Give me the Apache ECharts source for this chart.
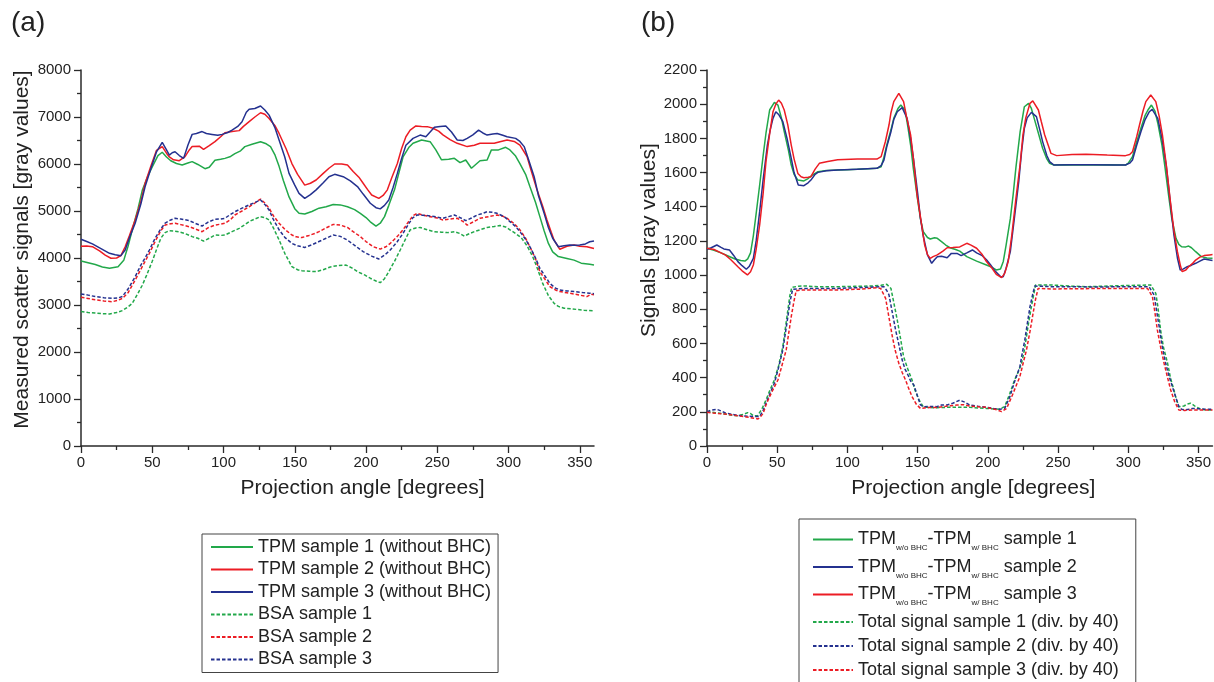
<!DOCTYPE html>
<html>
<head>
<meta charset="utf-8">
<script src="https://cdn.jsdelivr.net/npm/echarts@6.0.0/dist/echarts.min.js"></script>
<style>
  html, body { margin: 0; padding: 0; background: #fff; }
  #chart { width: 1214px; height: 682px; }
</style>
</head>
<body>
<div id="chart"></div>
<script>
// ---------- Panel (a): measured scatter signals, [angle (deg), gray value] ----------
const tpm1 = [[0,3935],[5,3900],[10,3860],[15,3810],[20,3780],[26,3815],[30,3950],[33,4250],[36,4600],[40,5050],[43,5440],[47,5750],[50,5940],[54,6180],[57,6250],[60,6150],[63,6070],[67,6010],[71,5980],[75,6020],[78,6050],[82,5990],[87,5900],[90,5930],[94,6080],[98,6100],[101,6120],[105,6160],[108,6220],[112,6280],[115,6370],[120,6420],[126,6475],[130,6430],[133,6370],[136,6200],[139,5950],[142,5650],[146,5300],[150,5050],[153,4950],[157,4935],[162,4990],[167,5060],[172,5090],[177,5140],[182,5130],[187,5090],[192,5030],[196,4950],[200,4860],[203,4770],[207,4680],[210,4740],[213,4880],[216,5120],[220,5450],[223,5800],[226,6150],[230,6350],[233,6440],[239,6510],[245,6475],[249,6300],[253,6090],[258,6100],[262,6120],[266,6030],[270,6085],[274,5910],[277,5990],[280,6070],[285,6085],[288,6300],[293,6300],[298,6355],[301,6300],[305,6170],[308,6010],[312,5780],[315,5520],[319,5180],[322,4880],[325,4580],[328,4310],[331,4130],[335,4030],[341,3990],[346,3955],[351,3890],[357,3865],[360,3850]];
const tpm2 = [[0,4250],[4,4255],[8,4240],[13,4150],[17,4060],[21,3995],[25,4000],[28,4050],[31,4240],[34,4480],[38,4810],[42,5200],[45,5590],[49,5950],[53,6290],[57,6370],[60,6230],[62,6150],[65,6090],[69,6070],[73,6155],[76,6300],[78,6370],[83,6380],[86,6310],[90,6390],[94,6475],[98,6580],[101,6665],[106,6690],[111,6710],[114,6800],[118,6900],[122,7000],[126,7090],[129,7060],[132,6970],[136,6820],[139,6650],[144,6320],[148,6010],[152,5780],[157,5550],[161,5590],[165,5660],[170,5800],[174,5910],[178,6000],[183,6000],[187,5980],[191,5840],[195,5720],[198,5590],[201,5460],[204,5340],[209,5270],[212,5330],[215,5450],[218,5700],[222,6010],[225,6330],[228,6580],[231,6720],[235,6810],[239,6800],[243,6795],[247,6760],[251,6700],[254,6620],[259,6520],[264,6440],[271,6370],[276,6400],[280,6440],[285,6440],[290,6440],[294,6475],[299,6510],[304,6480],[308,6400],[313,6160],[316,5850],[320,5450],[324,5100],[327,4810],[330,4550],[332,4380],[336,4185],[341,4250],[346,4275],[350,4250],[355,4240],[360,4200]];
const tpm3 = [[0,4400],[4,4350],[8,4300],[14,4200],[20,4100],[24,4070],[28,4050],[31,4170],[34,4430],[38,4740],[42,5150],[45,5520],[49,5900],[53,6260],[57,6460],[60,6300],[62,6190],[64,6240],[66,6260],[69,6180],[72,6120],[75,6400],[78,6630],[81,6650],[85,6690],[88,6650],[92,6630],[96,6610],[99,6630],[103,6670],[106,6720],[110,6800],[113,6900],[116,7100],[118,7165],[122,7180],[126,7235],[129,7150],[132,7040],[136,6780],[139,6510],[143,6150],[146,5800],[150,5550],[153,5375],[157,5270],[161,5350],[165,5450],[170,5600],[174,5730],[178,5780],[184,5730],[189,5640],[194,5520],[198,5360],[203,5165],[207,5070],[210,5045],[213,5120],[216,5235],[219,5500],[222,5800],[225,6120],[228,6400],[233,6545],[238,6615],[242,6580],[245,6680],[248,6780],[252,6800],[256,6810],[260,6680],[264,6510],[268,6500],[271,6545],[275,6620],[279,6720],[282,6660],[285,6615],[289,6640],[292,6650],[296,6610],[299,6580],[305,6545],[308,6480],[311,6370],[314,6100],[318,5730],[321,5330],[325,4950],[328,4650],[331,4420],[335,4240],[339,4260],[343,4275],[347,4270],[350,4275],[354,4300],[357,4345],[360,4360]];
const bsa1 = [[0,2860],[5,2840],[10,2830],[15,2815],[20,2810],[25,2840],[29,2880],[33,2960],[36,3035],[40,3250],[43,3420],[46,3630],[50,3930],[53,4180],[56,4420],[59,4540],[62,4580],[66,4570],[69,4555],[73,4520],[78,4455],[82,4420],[86,4360],[90,4420],[94,4490],[98,4480],[101,4490],[106,4560],[111,4630],[115,4710],[118,4775],[122,4830],[126,4880],[129,4860],[132,4810],[135,4640],[139,4385],[143,4100],[148,3815],[152,3750],[155,3730],[160,3720],[165,3710],[170,3750],[175,3810],[180,3840],[186,3850],[190,3790],[194,3710],[199,3640],[203,3570],[207,3510],[210,3475],[213,3560],[216,3710],[220,3930],[224,4170],[228,4420],[231,4600],[235,4640],[238,4650],[243,4600],[248,4560],[253,4550],[257,4540],[262,4560],[266,4520],[269,4465],[272,4510],[276,4560],[280,4600],[285,4650],[290,4670],[294,4690],[298,4660],[301,4600],[305,4520],[309,4430],[313,4260],[317,4030],[320,3800],[324,3460],[328,3200],[332,3035],[335,2970],[339,2930],[344,2920],[348,2905],[353,2890],[360,2875]];
const bsa2 = [[0,3165],[5,3140],[10,3110],[16,3085],[22,3070],[26,3100],[29,3140],[33,3260],[38,3530],[42,3760],[45,3930],[48,4100],[52,4350],[56,4580],[59,4700],[63,4730],[66,4740],[70,4710],[76,4665],[80,4620],[85,4560],[89,4640],[94,4700],[98,4720],[101,4740],[105,4820],[108,4915],[113,5000],[118,5090],[122,5170],[126,5255],[129,5170],[132,5060],[135,4900],[139,4740],[143,4610],[148,4490],[151,4450],[155,4435],[160,4480],[164,4520],[167,4560],[172,4640],[177,4715],[182,4700],[187,4650],[191,4560],[196,4455],[200,4350],[205,4240],[210,4190],[214,4240],[217,4310],[222,4460],[226,4600],[230,4780],[233,4900],[236,4950],[240,4910],[245,4880],[250,4850],[254,4810],[259,4830],[264,4845],[268,4780],[271,4700],[276,4780],[280,4845],[286,4880],[292,4915],[296,4890],[299,4845],[304,4730],[308,4600],[312,4420],[315,4240],[319,3980],[322,3710],[326,3530],[329,3390],[333,3320],[336,3285],[341,3260],[346,3235],[350,3210],[355,3180],[358,3230],[360,3215]];
const bsa3 = [[0,3235],[5,3210],[10,3180],[16,3155],[22,3140],[26,3150],[29,3180],[33,3340],[38,3600],[42,3850],[45,4000],[48,4170],[52,4420],[56,4620],[59,4740],[63,4810],[66,4845],[70,4830],[76,4795],[80,4740],[85,4680],[89,4760],[94,4825],[98,4830],[101,4845],[105,4930],[108,4985],[113,5060],[118,5130],[122,5180],[126,5235],[129,5140],[132,5020],[135,4820],[139,4600],[143,4440],[148,4310],[152,4260],[157,4225],[162,4280],[167,4350],[172,4420],[177,4490],[182,4460],[187,4380],[192,4270],[198,4135],[204,4040],[209,3980],[213,4060],[217,4170],[222,4350],[226,4525],[230,4730],[233,4860],[236,4915],[240,4910],[245,4895],[250,4870],[254,4845],[258,4880],[262,4915],[266,4860],[270,4795],[274,4850],[278,4915],[282,4950],[285,4985],[289,4970],[292,4950],[297,4880],[301,4775],[305,4670],[308,4560],[312,4400],[315,4240],[319,4000],[322,3780],[326,3600],[329,3460],[333,3360],[336,3320],[341,3300],[346,3285],[352,3265],[357,3250],[360,3240]];

// ---------- Panel (b): TPM difference and total signal (div. by 40) ----------
const diff1 = [[0,1157],[5,1145],[10,1130],[15,1112],[20,1094],[24,1085],[27,1082],[29,1095],[31,1130],[33,1230],[35,1360],[37.5,1527],[40,1700],[42,1830],[44.6,1966],[48,2011],[50.5,1995],[53,1920],[55,1839],[58,1730],[60,1644],[62,1590],[64.7,1556],[69,1551],[72,1565],[75,1585],[79,1605],[85,1612],[93,1615],[100,1617],[107,1619],[115,1622],[121,1625],[124,1634],[126,1690],[128,1760],[131,1850],[133,1917],[136,1975],[138,1995],[141,1966],[143,1870],[145,1761],[147,1620],[150,1440],[152,1330],[154,1254],[157,1220],[159,1211],[162,1218],[164,1215],[167,1196],[170,1176],[173,1160],[177,1150],[180,1140],[185,1108],[192,1082],[199,1059],[203,1045],[206,1030],[209,1035],[211,1080],[213,1176],[216,1330],[218,1469],[220,1630],[223,1839],[226,1985],[229,2005],[231,1975],[233,1917],[236,1830],[239,1742],[242,1680],[244,1654],[247,1644],[255,1645],[270,1644],[285,1646],[298,1644],[300,1655],[303,1693],[306,1780],[309,1859],[312,1935],[314,1966],[316.5,1995],[319,1960],[321,1890],[324,1761],[326,1640],[329,1449],[331,1330],[334,1215],[336,1180],[338,1166],[341,1165],[343,1170],[345,1160],[348,1137],[352,1108],[356,1100],[360,1098]];
const diff2 = [[0,1151],[3,1160],[7,1176],[10,1162],[12,1153],[16,1147],[19,1115],[22,1079],[25,1055],[28,1034],[30,1050],[33,1098],[35,1200],[37.5,1371],[40,1560],[43,1761],[45,1850],[47,1917],[49,1956],[51,1940],[54,1898],[57,1800],[60,1683],[62,1600],[65,1527],[69,1523],[72,1540],[74,1556],[77,1590],[79,1601],[85,1610],[93,1615],[107,1620],[121,1625],[124,1640],[126,1673],[128,1750],[131,1839],[133,1910],[135.5,1956],[139,1980],[142.5,1917],[145,1800],[147,1683],[150,1480],[152,1332],[154,1230],[157,1118],[160,1069],[162,1090],[164,1108],[167,1110],[171,1102],[174,1127],[178,1127],[181,1114],[185,1130],[189,1147],[192,1130],[196,1114],[199,1090],[202,1059],[205,1025],[209,991],[211,991],[213,1040],[216,1137],[219,1340],[222,1547],[224,1720],[226,1859],[228,1920],[231,1952],[234.6,1927],[237,1850],[239,1781],[242,1700],[244,1664],[247,1644],[260,1645],[275,1646],[290,1644],[298,1644],[301,1655],[303,1673],[306,1760],[309,1839],[312,1910],[315,1956],[317,1970],[321,1917],[324,1800],[327,1644],[330,1420],[332.5,1235],[335,1100],[337,1030],[339,1035],[342,1049],[345,1058],[348,1069],[351,1082],[354,1094],[358,1088],[360,1085]];
const diff3 = [[0,1157],[5,1150],[10,1130],[13,1118],[17,1090],[22,1049],[25,1025],[28.8,1001],[31,1020],[33,1059],[35,1150],[37.5,1293],[40,1480],[42,1664],[44.5,1820],[47,1956],[49,2000],[51,2024],[53,2005],[55,1966],[57.5,1880],[60,1761],[62,1680],[64.7,1595],[67,1575],[69,1570],[72,1572],[74,1576],[77,1620],[80,1654],[86,1665],[93,1675],[107,1679],[121,1679],[124,1693],[127,1780],[129.6,1878],[131,1950],[133,2015],[136.6,2063],[140,2015],[142,1930],[145,1820],[147,1680],[149.6,1469],[152,1340],[155,1176],[157,1120],[159,1098],[161,1108],[164,1118],[168,1140],[171,1160],[175,1162],[180,1165],[185,1186],[188,1175],[192,1157],[196,1120],[199,1079],[203,1040],[206,1004],[209.8,985],[212,1010],[214.5,1079],[217,1230],[220,1449],[223,1650],[225,1820],[227,1920],[230,2005],[232,2019],[236,1966],[238,1900],[240.5,1820],[243,1760],[245,1712],[249,1699],[260,1705],[270,1707],[285,1702],[298,1699],[301,1705],[303,1722],[306,1810],[308,1878],[310.5,1960],[312.5,2015],[316,2054],[319.6,2015],[322,1930],[324.3,1820],[327,1650],[330,1430],[332.5,1260],[335,1137],[337,1060],[338.4,1020],[341,1030],[343,1049],[346,1070],[348,1088],[351,1105],[354,1114],[358,1118],[360,1120]];
const total1 = [[0,201],[6,195],[12.7,187],[18,180],[22,177],[26,185],[29,195],[31,190],[33,177],[36,177],[39,215],[42,269],[45,330],[48,386],[51,470],[54,581],[56,700],[57.6,796],[59,880],[60.4,928],[65,935],[70,936],[80,932],[93,932],[105,934],[117,936],[124,940],[128,946],[131,922],[133,840],[135.5,737],[138,620],[140,523],[143,450],[146,386],[148,330],[151,269],[154,230],[158,225],[164,224],[170,226],[178,226],[187,226],[199,220],[208,215],[212,230],[215.7,308],[219,386],[222,440],[224,484],[226,560],[227.5,640],[229,720],[231,815],[233,900],[234,942],[240,942],[246,942],[260,935],[270,932],[282,935],[294,938],[305,940],[316,942],[319.6,893],[321,820],[323,679],[325,580],[328,484],[330,400],[332.5,328],[334,280],[336,230],[339.6,234],[342,245],[344.3,250],[346,242],[348,230],[351,218],[355,211],[360,211]];
const total2 = [[0,201],[3,210],[6.8,215],[10,205],[12.7,195],[18,185],[22,179],[28,175],[34,172],[37.5,172],[40,210],[42,250],[45,310],[48,367],[51,460],[54,562],[56,670],[57.6,757],[59,840],[61,917],[65,920],[70,922],[80,922],[93,922],[110,927],[124,932],[126,932],[128,910],[129.6,884],[132,780],[134.3,679],[137,580],[139,503],[141,450],[143.7,406],[145,380],[147.3,357],[150,290],[152,240],[154,230],[158,232],[163.8,230],[167,240],[171,240],[175,250],[180,268],[184,255],[187,240],[193,232],[199,226],[204,220],[208.6,215],[212,220],[215.7,289],[219,376],[222.8,464],[224,520],[226.3,620],[228,710],[230,815],[232,890],[233.4,936],[240,934],[246,932],[260,932],[280,930],[293,932],[305,932],[314.8,932],[318.4,884],[320,800],[322,698],[324,590],[326.6,484],[329,410],[331.4,347],[334,280],[336,230],[338,215],[340.8,211],[343,215],[345.5,220],[350,218],[355,215],[360,215]];
const total3 = [[0,197],[6,192],[12.7,187],[18,182],[22,177],[28,170],[34,162],[36.3,158],[38,170],[40,191],[42,240],[44.6,289],[47,330],[50.5,386],[53,460],[56.4,562],[58,650],[60,757],[62,850],[63.5,909],[67,912],[75,913],[93,913],[110,918],[121,926],[123.7,922],[125,900],[127.2,864],[129,780],[132,640],[134,560],[136.6,484],[139,430],[141.4,386],[143,350],[146,289],[149,245],[152,220],[158,225],[163.8,226],[170,232],[178,240],[183,242],[187,234],[193,230],[199,226],[205,215],[209.8,201],[213.4,220],[216,270],[218,308],[220,350],[222.8,406],[225,480],[227.5,562],[230,670],[232.2,776],[234,860],[235.8,922],[246,919],[260,920],[275,921],[294,922],[305,922],[313.7,922],[317.2,874],[319,780],[320.7,679],[323,580],[325.5,484],[328,400],[330.2,328],[333,260],[336,211],[340,208],[345,211],[350,210],[355,211],[360,211]];

// Axis ticks
const xMajorTicks = [0, 50, 100, 150, 200, 250, 300, 350];
const xMinorTicks = [25, 75, 125, 175, 225, 275, 325];

// Legend entries
const namesA = ['TPM sample 1 (without BHC)', 'TPM sample 2 (without BHC)', 'TPM sample 3 (without BHC)',
                'BSA sample 1', 'BSA sample 2', 'BSA sample 3'];
const namesB = ['TPM w/o BHC - TPM w/ BHC sample 1', 'TPM w/o BHC - TPM w/ BHC sample 2', 'TPM w/o BHC - TPM w/ BHC sample 3',
                'Total signal sample 1 (div. by 40)', 'Total signal sample 2 (div. by 40)', 'Total signal sample 3 (div. by 40)'];

const GREEN = '#22a84a', RED = '#ec1c24', BLUE = '#24318f';
const FONT = 'Liberation Sans, Arial, sans-serif';
const INK = '#222';
const AXIS = '#2a2a2a';

function line(name, data, color, dashed, idx) {
  return {
    type: 'line', name, data, xAxisIndex: idx * 2, yAxisIndex: idx,
    symbol: 'none', showSymbol: false, animation: false, z: dashed ? 3 : 4,
    lineStyle: { color, width: 1.5, type: dashed ? [3.5, 2] : 'solid' },
    itemStyle: { color }
  };
}

function xAxes(gridIndex) {
  return [{
    type: 'value', gridIndex, min: 0, max: 360, interval: 50,
    name: 'Projection angle [degrees]', nameLocation: 'middle', nameGap: 32,
    nameTextStyle: { fontSize: 21, color: INK, fontFamily: FONT, padding: [0, 0, 0, gridIndex ? 27 : 50] },
    axisLine: { show: true, lineStyle: { color: AXIS, width: 1.5 } },
    axisTick: { show: true, length: 7, customValues: xMajorTicks, lineStyle: { color: AXIS, width: 1.3 } },
    axisLabel: { customValues: xMajorTicks, fontSize: 15, color: INK, fontFamily: FONT, margin: 9 },
    splitLine: { show: false }
  }, {
    type: 'value', gridIndex, min: 0, max: 360, position: 'bottom',
    axisLine: { show: false },
    axisTick: { show: true, length: 4, customValues: xMinorTicks, lineStyle: { color: AXIS, width: 1.3 } },
    axisLabel: { show: false }, splitLine: { show: false }
  }];
}

function yAxis(gridIndex, max, interval, name, gap, shift) {
  return {
    type: 'value', gridIndex, min: 0, max, interval,
    name, nameLocation: 'middle', nameGap: gap,
    nameTextStyle: { fontSize: 21, color: INK, fontFamily: FONT, padding: [0, 0, 0, shift] },
    axisLine: { show: true, lineStyle: { color: AXIS, width: 1.5 } },
    axisTick: { show: true, length: 7, lineStyle: { color: AXIS, width: 1.3 } },
    minorTick: { show: true, splitNumber: 2, length: 4, lineStyle: { color: AXIS, width: 1.3 } },
    axisLabel: { fontSize: 15, color: INK, fontFamily: FONT, margin: 10, formatter: v => String(v) },
    splitLine: { show: false }, minorSplitLine: { show: false }
  };
}

const subRich = {
  m: { fontSize: 18, lineHeight: 25, color: INK, fontFamily: FONT },
  s: { fontSize: 8, lineHeight: 7, verticalAlign: 'bottom', color: INK, fontFamily: FONT },
  p: { fontSize: 18, lineHeight: 20, color: INK, fontFamily: FONT }
};

const option = {
  backgroundColor: '#fff',
  animation: false,
  title: [
    { text: '(a)', left: 6, top: 4, textStyle: { fontSize: 28, fontWeight: 'normal', color: INK, fontFamily: FONT } },
    { text: '(b)', left: 636, top: 4, textStyle: { fontSize: 28, fontWeight: 'normal', color: INK, fontFamily: FONT } }
  ],
  grid: [
    { left: 81, top: 70, width: 513, height: 376 },
    { left: 707, top: 70, width: 509, height: 376 }
  ],
  xAxis: [...xAxes(0), ...xAxes(1)],
  yAxis: [
    yAxis(0, 8000, 1000, 'Measured scatter signals [gray values]', 48, 17),
    yAxis(1, 2200, 200, 'Signals [gray values]', 47, 36)
  ],
  legend: [
    {
      data: namesA, orient: 'vertical', left: 202, top: 534,
      padding: [3, 7, 3, 8], itemWidth: 42, itemHeight: 12, itemGap: 2.5,
      borderColor: '#444', borderWidth: 1, backgroundColor: '#fff',
      selectedMode: false,
      itemStyle: { opacity: 0, borderWidth: 0 },
      textStyle: { fontSize: 18, lineHeight: 20, color: INK, fontFamily: FONT }
    },
    {
      data: namesB, orient: 'vertical', left: 799, top: 519, height: 220,
      padding: [11.5, 17, 6, 13], itemWidth: 40, itemHeight: 12, itemGap: 6,
      borderColor: '#444', borderWidth: 1, backgroundColor: '#fff',
      selectedMode: false,
      itemStyle: { opacity: 0, borderWidth: 0 },
      formatter: function (name) {
        const i = namesB.indexOf(name);
        if (i < 3) return '{m|TPM}{s|w/o BHC}{m|-TPM}{s|w/ BHC}{m| sample ' + (i + 1) + '}';
        return '{p|' + name + '}';
      },
      textStyle: { fontSize: 18, color: INK, fontFamily: FONT, rich: subRich }
    }
  ],
  series: [
    line(namesA[0], tpm1, GREEN, false, 0),
    line(namesA[1], tpm2, RED, false, 0),
    line(namesA[2], tpm3, BLUE, false, 0),
    line(namesA[3], bsa1, GREEN, true, 0),
    line(namesA[4], bsa2, RED, true, 0),
    line(namesA[5], bsa3, BLUE, true, 0),
    line(namesB[0], diff1, GREEN, false, 1),
    line(namesB[1], diff2, BLUE, false, 1),
    line(namesB[2], diff3, RED, false, 1),
    line(namesB[3], total1, GREEN, true, 1),
    line(namesB[4], total2, BLUE, true, 1),
    line(namesB[5], total3, RED, true, 1)
  ]
};

const chart = echarts.init(document.getElementById('chart'), null, { renderer: 'canvas' });
chart.setOption(option);
</script>
</body>
</html>
